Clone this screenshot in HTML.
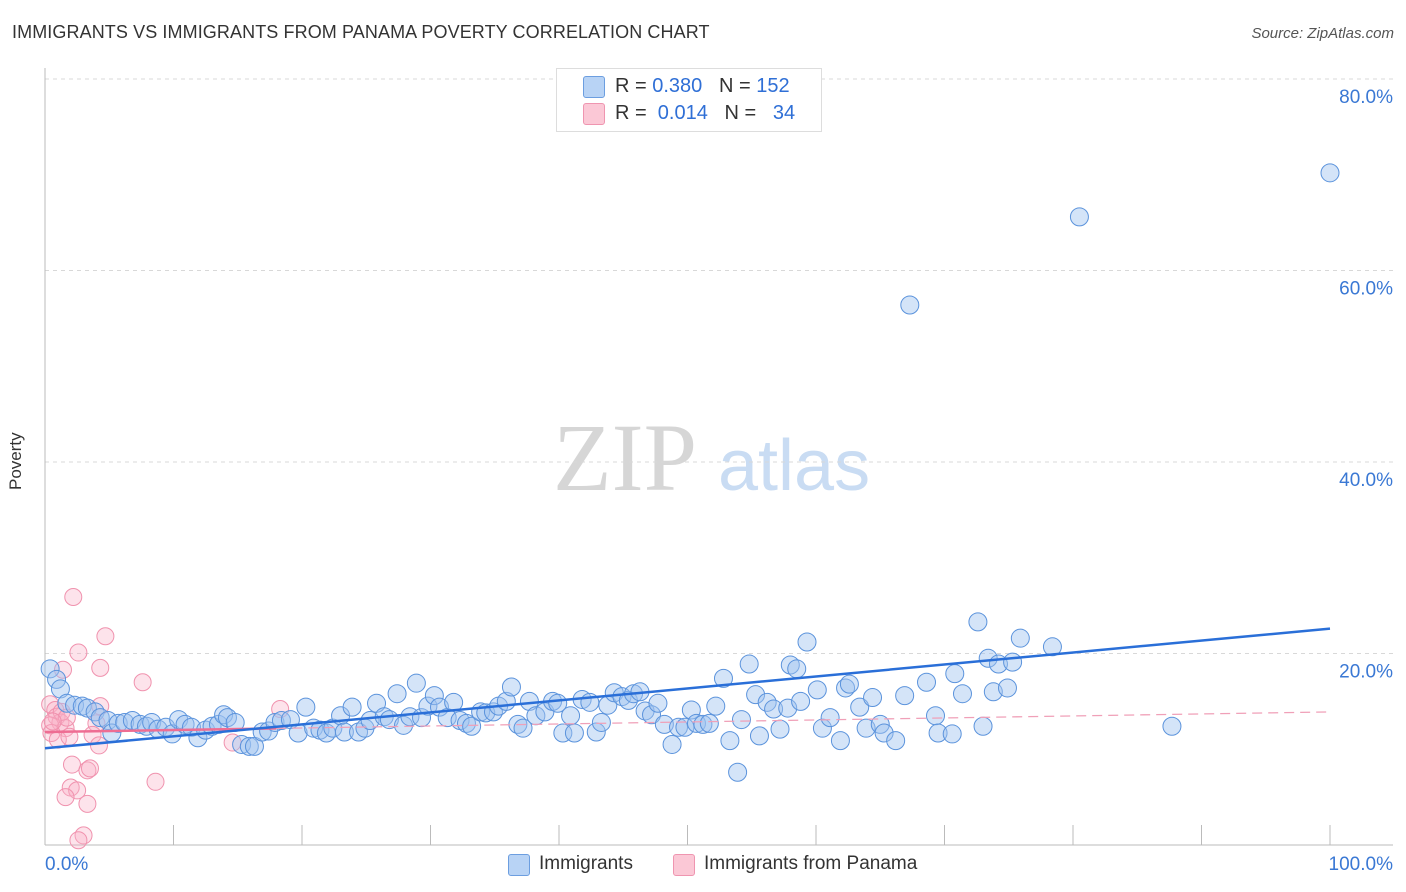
<!DOCTYPE html>
<html><head><meta charset="utf-8">
<style>
body{margin:0;background:#fff;font-family:"Liberation Sans",sans-serif;}
#wrap{position:relative;width:1406px;height:892px;overflow:hidden;}
.t{position:absolute;white-space:nowrap;}
</style></head>
<body>
<div id="wrap">
<div class="t" style="left:12px;top:22px;font-size:18px;color:#333;letter-spacing:0.1px">IMMIGRANTS VS IMMIGRANTS FROM PANAMA POVERTY CORRELATION CHART</div>
<div class="t" style="right:12px;top:25px;font-size:15px;color:#555;font-style:italic">Source: ZipAtlas.com</div>
<div class="t" style="left:6px;top:445px;font-size:17px;color:#333;transform:rotate(-90deg);transform-origin:left top;top:490px">Poverty</div>
<svg id="plot" width="1406" height="892" style="position:absolute;left:0;top:0"></svg>
<div style="position:absolute;left:556px;top:68px;width:264px;height:62px;border:1px solid #ddd;background:#fff;font-size:20px;color:#333">
 <div style="position:absolute;left:26px;top:7px;width:20px;height:20px;background:#b8d3f5;border:1px solid #6c9ee0;border-radius:3px"></div>
 <div class="t" style="left:58px;top:6px">R = <span style="color:#2f6fd6">0.380</span>&nbsp;&nbsp;&nbsp;N = <span style="color:#2f6fd6">152</span></div>
 <div style="position:absolute;left:26px;top:34px;width:20px;height:20px;background:#fbc8d6;border:1px solid #ef95b0;border-radius:3px"></div>
 <div class="t" style="left:58px;top:33px">R =&nbsp; <span style="color:#2f6fd6">0.014</span>&nbsp;&nbsp;&nbsp;N =&nbsp;&nbsp; <span style="color:#2f6fd6">34</span></div>
</div>
<div style="position:absolute;left:0;top:852px;width:1406px;height:26px;font-size:19px;color:#333">
 <div style="position:absolute;left:508px;top:2px;width:20px;height:20px;background:#b8d3f5;border:1px solid #6c9ee0;border-radius:3px"></div>
 <div class="t" style="left:539px;top:1px">Immigrants</div>
 <div style="position:absolute;left:673px;top:2px;width:20px;height:20px;background:#fbc8d6;border:1px solid #ef95b0;border-radius:3px"></div>
 <div class="t" style="left:704px;top:1px">Immigrants from Panama</div>
</div>
</div>
<script>
const yTicks=[20,40,60,80];
const yTickLabels=["20.0%","40.0%","60.0%","80.0%"];
const xTickLabels=["0.0%","100.0%"];
const blueX=[0.4,0.9,1.2,1.7,2.3,2.9,3.3,3.9,4.3,4.9,5.2,5.7,6.2,6.8,7.4,7.9,8.3,8.8,9.4,9.9,10.4,10.9,11.4,11.9,12.5,13.0,13.5,13.9,14.2,14.8,15.3,15.9,16.3,16.9,17.4,17.9,18.4,19.1,19.7,20.3,20.9,21.4,21.9,22.4,23.0,23.3,23.9,24.4,24.9,25.3,25.8,26.4,26.8,27.4,27.9,28.4,28.9,29.3,29.8,30.3,30.7,31.3,31.8,32.3,32.8,33.2,33.9,34.3,34.9,35.3,35.9,36.3,36.8,37.2,37.7,38.2,38.9,39.5,39.9,40.3,40.9,41.2,41.8,42.4,42.9,43.3,43.8,44.3,44.9,45.4,45.8,46.3,46.7,47.2,47.7,48.2,48.8,49.3,49.8,50.3,50.7,51.2,51.7,52.2,52.8,53.3,53.9,54.2,54.8,55.3,55.6,56.2,56.7,57.2,57.8,58.0,58.5,58.8,59.3,60.1,60.5,61.1,61.9,62.3,62.6,63.4,63.9,64.4,65.0,65.3,66.2,66.9,67.3,68.6,69.3,69.5,70.6,70.8,71.4,72.6,73.0,73.4,73.8,74.2,74.9,75.3,75.9,78.4,80.5,87.7,100];
const blueY=[18.4,17.3,16.3,14.8,14.6,14.5,14.3,13.9,13.3,13.0,11.7,12.7,12.8,13.0,12.6,12.4,12.8,12.1,12.3,11.6,13.1,12.6,12.3,11.2,12.0,12.4,12.6,13.6,13.3,12.8,10.5,10.3,10.3,11.8,11.9,12.8,13.0,13.1,11.7,14.4,12.2,12.0,11.7,12.2,13.5,11.8,14.4,11.8,12.2,13.0,14.8,13.4,13.1,15.8,12.5,13.4,16.9,13.3,14.5,15.6,14.4,13.3,14.9,13.0,12.7,12.4,13.9,13.8,13.9,14.5,15.0,16.5,12.6,12.2,15.0,13.5,13.9,15.0,14.8,11.7,13.5,11.7,15.2,14.9,11.8,12.8,14.6,15.9,15.5,15.1,15.8,16.0,14.0,13.6,14.8,12.6,10.5,12.3,12.3,14.1,12.7,12.6,12.7,14.5,17.4,10.9,7.6,13.1,18.9,15.7,11.4,14.9,14.2,12.1,14.3,18.8,18.4,15.0,21.2,16.2,12.2,13.3,10.9,16.4,16.8,14.4,12.2,15.4,12.6,11.7,10.9,15.6,56.4,17.0,13.5,11.7,11.6,17.9,15.8,23.3,12.4,19.5,16.0,18.9,16.4,19.1,21.6,20.7,65.6,12.4,70.2];
const pinkX=[2.2,4.7,2.6,4.3,1.4,7.6,0.4,0.8,0.9,1.2,0.4,1.6,0.5,1.0,1.9,4.3,4.0,3.7,4.2,14.6,18.3,2.1,3.3,2.0,2.5,3.3,8.6,3.0,2.6,1.6,3.5,1.3,1.7,0.6];
const pinkY=[25.9,21.8,20.1,18.5,18.3,17.0,14.7,14.1,13.4,12.8,12.5,12.2,11.7,11.0,11.3,14.5,12.7,11.5,10.4,10.7,14.2,8.4,7.8,6.0,5.7,4.3,6.6,1.0,0.5,5.0,8.0,13.9,13.3,12.9];
const blueTrend=[10.1,22.6];
const pinkTrend=[11.8,13.9];
const pinkSolidEnd=18;

const X0=45,X1=1330,Y0=845,Y80=79;
const sx=v=>X0+(X1-X0)*v/100;
const sy=v=>Y0-(Y0-Y80)*v/80;
const svg=document.getElementById('plot');
const NS='http://www.w3.org/2000/svg';
function mk(tag,attrs){const e=document.createElementNS(NS,tag);for(const k in attrs)e.setAttribute(k,attrs[k]);svg.appendChild(e);return e;}

// watermark
let w=mk('text',{x:553,y:490,'font-size':96,fill:'#d6d6d6','font-family':'Liberation Serif,serif'});w.textContent='ZIP';


w=mk('text',{x:718,y:490,'font-size':72,fill:'#c9dcf3','font-family':'Liberation Sans,sans-serif'});w.textContent='atlas';



yTicks.forEach((t,i)=>{
 const g=mk('line',{x1:X0,x2:1393,y1:sy(t),y2:sy(t),stroke:'#d8d8d8','stroke-dasharray':'4 4'});
 
 
 const l=mk('text',{x:1393,y:sy(t)+24,'text-anchor':'end','font-size':19,fill:'#3a78d4','font-family':'Liberation Sans,sans-serif'});
 l.textContent=yTickLabels[i];
 
 
});
let a=mk('line',{x1:X0,x2:X0,y1:68,y2:Y0,stroke:'#bbb'});


a=mk('line',{x1:X0,x2:1393,y1:Y0,y2:Y0,stroke:'#bbb'});


for(let k=0;k<=10;k++){
 const tk=mk('line',{x1:sx(k*10),x2:sx(k*10),y1:Y0-20,y2:Y0,stroke:'#bbb'});
 
 
}
let xl=mk('text',{x:45,y:870,'font-size':19,fill:'#3a78d4','font-family':'Liberation Sans,sans-serif'});xl.textContent=xTickLabels[0];


xl=mk('text',{x:1393,y:870,'text-anchor':'end','font-size':19,fill:'#3a78d4','font-family':'Liberation Sans,sans-serif'});xl.textContent=xTickLabels[1];



pinkX.forEach((x,i)=>{
 const c=mk('circle',{cx:sx(x),cy:sy(pinkY[i]),r:8.5,fill:'rgba(248,176,198,0.35)',stroke:'#f092ae','stroke-width':1});
 
 
});
blueX.forEach((x,i)=>{
 const c=mk('circle',{cx:sx(x),cy:sy(blueY[i]),r:9,fill:'rgba(160,196,240,0.45)',stroke:'#5b93dc','stroke-width':1});
 
 
});
const py=x=>pinkTrend[0]+(pinkTrend[1]-pinkTrend[0])*x/100;
let tl=mk('line',{x1:sx(0),y1:sy(py(0)),x2:sx(pinkSolidEnd),y2:sy(py(pinkSolidEnd)),stroke:'#ee6d93','stroke-width':2.5});


tl=mk('line',{x1:sx(pinkSolidEnd),y1:sy(py(pinkSolidEnd)),x2:sx(100),y2:sy(py(100)),stroke:'#f0a0b8','stroke-width':1.3,'stroke-dasharray':'10 6'});


tl=mk('line',{x1:sx(0),y1:sy(blueTrend[0]),x2:sx(100),y2:sy(blueTrend[1]),stroke:'#2a6fd8','stroke-width':2.5});


</script>
</body></html>
